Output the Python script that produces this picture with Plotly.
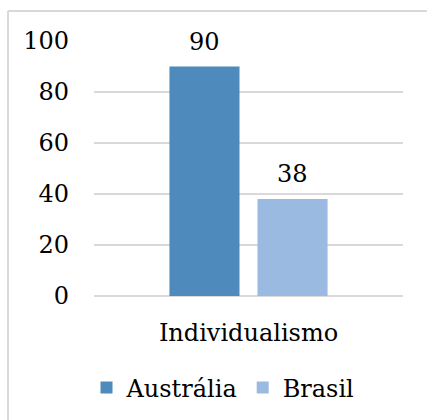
import plotly.graph_objects as go

categories = ["Individualismo"]
series_names = ["Austrália", "Brasil"]
australia = [90]
brasil = [38]
y_ticks = [0, 20, 40, 60, 80, 100]

colors = ["#4F8ABD", "#9ABAE1"]
font_family = "DejaVu Serif"
font_size = 24
grid_color = "#D9D9D9"

W, H = 427, 420
ml, mr, mt, mb = 94, 24, 41, 124
pw, ph = W - ml - mr, H - mt - mb
bargap, bargroupgap = 0.43, 0.2045

fig = go.Figure()
n_series = len(series_names)
slot = pw * (1 - bargap) / n_series
for i, (name, vals, col) in enumerate(zip(series_names, [australia, brasil], colors)):
    fig.add_trace(go.Bar(
        x=categories, y=vals, name=name,
        marker=dict(color=col, line=dict(width=0)),
    ))
    # value labels above each bar
    offset = (i - (n_series - 1) / 2) * slot
    for cat, v in zip(categories, vals):
        fig.add_annotation(x=cat, y=v, text=str(v), showarrow=False,
                           xshift=offset, yshift=9, yanchor="bottom",
                           font=dict(family=font_family, size=font_size,
                                     color="black"))


def px_x(px):
    return (px - ml) / pw


def px_y(py):
    return (H - mb - py) / ph


border = dict(color=grid_color, width=2)
fig.add_shape(type="line", xref="paper", yref="paper",
              x0=px_x(8), x1=px_x(440), y0=px_y(11), y1=px_y(11), line=border)
fig.add_shape(type="line", xref="paper", yref="paper",
              x0=px_x(8), x1=px_x(8), y0=px_y(11), y1=px_y(440), line=border)

fig.update_layout(
    width=W, height=H,
    margin=dict(l=ml, r=mr, t=mt, b=mb, autoexpand=False),
    paper_bgcolor="white", plot_bgcolor="white",
    barmode="group", bargap=bargap, bargroupgap=bargroupgap,
    font=dict(family=font_family, size=font_size, color="black"),
    showlegend=True,
    legend=dict(orientation="h", x=px_x(223), xanchor="center",
                y=px_y(388), yanchor="middle",
                font=dict(family=font_family, size=font_size, color="black"),
                bgcolor="rgba(0,0,0,0)"),
)
fig.update_yaxes(range=[0, 100], tickvals=y_ticks, showgrid=True,
                 gridcolor=grid_color, gridwidth=2, zeroline=True,
                 zerolinecolor=grid_color, zerolinewidth=2, showline=False,
                 ticks="", ticklabelstandoff=24, automargin=False,
                 tickfont=dict(family=font_family, size=font_size, color="black"))
fig.update_xaxes(showgrid=False, showline=False, ticks="",
                 ticklabelstandoff=20, automargin=False,
                 tickfont=dict(family=font_family, size=font_size, color="black"))

fig.write_html("out.html")
